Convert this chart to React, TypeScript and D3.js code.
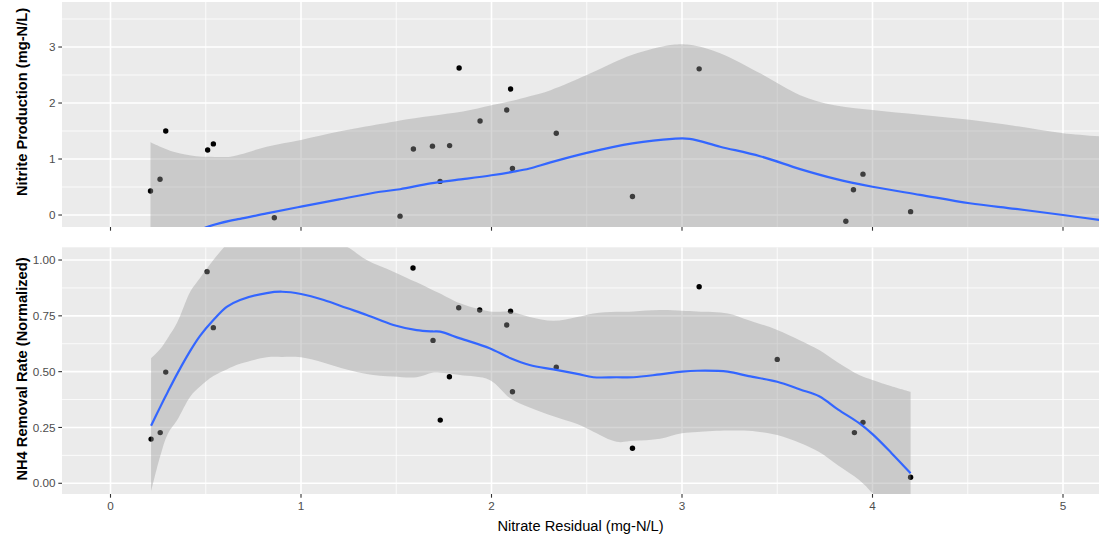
import { useMemo } from "react";
import * as d3 from "d3";

// points (x = nitrate residual)
const topX = [0.21, 0.26, 0.29, 0.51, 0.54, 0.86, 1.52, 1.59, 1.69, 1.73, 1.78, 1.83, 1.94, 2.08, 2.1, 2.11, 2.34, 2.74, 3.09, 3.86, 3.9, 3.95, 4.2];
const topY = [0.43, 0.64, 1.5, 1.16, 1.27, -0.05, -0.02, 1.18, 1.23, 0.6, 1.24, 2.625, 1.68, 1.875, 2.25, 0.83, 1.46, 0.33, 2.61, -0.11, 0.45, 0.73, 0.06];

const bottomX = [0.213, 0.261, 0.29, 0.507, 0.54, 1.588, 1.693, 1.731, 1.779, 1.828, 1.938, 2.08, 2.1, 2.11, 2.34, 2.74, 3.09, 3.5, 3.905, 3.95, 4.2];
const bottomY = [0.198, 0.227, 0.498, 0.948, 0.697, 0.964, 0.64, 0.283, 0.477, 0.786, 0.776, 0.709, 0.771, 0.41, 0.52, 0.157, 0.88, 0.555, 0.227, 0.273, 0.027];

// loess curves + confidence bands
const topSmoothX = [0.21, 0.33, 0.45, 0.51, 0.63, 0.68, 0.82, 1.0, 1.2, 1.415, 1.52, 1.68, 1.85, 2.0, 2.11, 2.2, 2.31, 2.5, 2.74, 2.95, 3.04, 3.2, 3.41, 3.62, 3.8, 4.0, 4.25, 4.51, 4.75, 5.0, 5.3];
const topFit = [-0.72, -0.5, -0.3, -0.21, -0.1, -0.07, 0.03, 0.15, 0.28, 0.416, 0.46, 0.565, 0.64, 0.71, 0.77, 0.83, 0.94, 1.11, 1.28, 1.36, 1.36, 1.22, 1.05, 0.82, 0.65, 0.505, 0.36, 0.21, 0.11, 0.0, -0.14];
const topUpper = [1.3, 1.13, 1.05, 1.04, 1.04, 1.08, 1.22, 1.34, 1.49, 1.625, 1.69, 1.77, 1.85, 1.96, 2.04, 2.12, 2.23, 2.5, 2.86, 3.04, 3.04, 2.89, 2.53, 2.14, 1.96, 1.875, 1.79, 1.7, 1.59, 1.46, 1.38];
const topLower = [-2.7, -2.1, -1.6, -1.45, -1.25, -1.15, -1.1, -1.0, -0.9, -0.8, -0.75, -0.65, -0.57, -0.53, -0.5, -0.46, -0.35, -0.28, -0.3, -0.32, -0.32, -0.45, -0.43, -0.5, -0.66, -0.87, -1.07, -1.28, -1.37, -1.46, -1.66];

const bottomSmoothX = [0.213, 0.26, 0.3, 0.35, 0.42, 0.47, 0.54, 0.61, 0.68, 0.82, 0.9, 1.0, 1.12, 1.24, 1.345, 1.485, 1.607, 1.69, 1.73, 1.835, 1.99, 2.1, 2.2, 2.325, 2.45, 2.535, 2.657, 2.745, 2.885, 3.0, 3.08, 3.24, 3.35, 3.5, 3.62, 3.72, 3.82, 3.93, 4.0, 4.1, 4.2];
const bottomFit = [0.258, 0.34, 0.408, 0.49, 0.595, 0.66, 0.731, 0.79, 0.821, 0.852, 0.858, 0.848, 0.821, 0.785, 0.754, 0.709, 0.686, 0.68, 0.679, 0.649, 0.605, 0.56, 0.53, 0.51, 0.49, 0.475, 0.475, 0.475, 0.488, 0.5, 0.504, 0.5, 0.48, 0.455, 0.42, 0.39, 0.33, 0.269, 0.22, 0.135, 0.045];
const bottomUpper = [0.56, 0.6, 0.65, 0.72, 0.86, 0.92, 1.0, 1.07, 1.12, 1.15, 1.15, 1.14, 1.1, 1.06, 1.0, 0.948, 0.9, 0.866, 0.85, 0.806, 0.77, 0.768, 0.745, 0.728, 0.745, 0.761, 0.768, 0.77, 0.776, 0.773, 0.77, 0.761, 0.73, 0.687, 0.64, 0.597, 0.54, 0.485, 0.463, 0.435, 0.41];
const bottomLower = [-0.037, 0.119, 0.22, 0.283, 0.39, 0.433, 0.48, 0.51, 0.535, 0.564, 0.566, 0.564, 0.54, 0.51, 0.49, 0.478, 0.475, 0.495, 0.495, 0.485, 0.463, 0.38, 0.34, 0.3, 0.265, 0.231, 0.186, 0.19, 0.2, 0.224, 0.23, 0.236, 0.235, 0.216, 0.18, 0.14, 0.08, 0.015, -0.045, -0.16, -0.32];

const xTicks = [0, 1, 2, 3, 4, 5];
const xMinor = [0.5, 1.5, 2.5, 3.5, 4.5];
const topYTicks = [0, 1, 2, 3];
const topYMinor = [0.5, 1.5, 2.5, 3.5];
const bottomYTicks = [0, 0.25, 0.5, 0.75, 1.0];
const bottomYMinor = [0.125, 0.375, 0.625, 0.875];

const FONT = "'Liberation Sans', Arial, sans-serif";

type PanelProps = {
  id: string;
  top: number;
  bottom: number;
  yDomain: [number, number];
  yTicks: number[];
  yMinor: number[];
  fmt: (v: number) => string;
  px: number[];
  py: number[];
  sx: number[];
  fit: number[];
  lo: number[];
  hi: number[];
  title: string;
  titleY: number;
  xScale: d3.ScaleLinear<number, number>;
  left: number;
  right: number;
  showXLabels: boolean;
};

function Panel(p: PanelProps) {
  const y = d3.scaleLinear().domain(p.yDomain).range([p.bottom, p.top]);
  const x = p.xScale;
  const idx = d3.range(p.sx.length);
  const curve = d3.curveCatmullRom.alpha(0.5);
  const area = d3
    .area<number>()
    .x((i) => x(p.sx[i]))
    .y0((i) => y(p.lo[i]))
    .y1((i) => y(p.hi[i]))
    .curve(curve);
  const line = d3
    .line<number>()
    .x((i) => x(p.sx[i]))
    .y((i) => y(p.fit[i]))
    .curve(curve);

  return (
    <g>
      <defs>
        <clipPath id={p.id}>
          <rect x={p.left} y={p.top} width={p.right - p.left} height={p.bottom - p.top} />
        </clipPath>
      </defs>
      <rect x={p.left} y={p.top} width={p.right - p.left} height={p.bottom - p.top} fill="#EBEBEB" />
      <g clipPath={`url(#${p.id})`}>
        {p.yMinor.map((v) => (
          <line key={"ym" + v} x1={p.left} x2={p.right} y1={y(v)} y2={y(v)} stroke="#fff" strokeWidth={0.8} />
        ))}
        {xMinor.map((v) => (
          <line key={"xm" + v} x1={x(v)} x2={x(v)} y1={p.top} y2={p.bottom} stroke="#fff" strokeWidth={0.8} />
        ))}
        {p.yTicks.map((v) => (
          <line key={"y" + v} x1={p.left} x2={p.right} y1={y(v)} y2={y(v)} stroke="#fff" strokeWidth={1.6} />
        ))}
        {xTicks.map((v) => (
          <line key={"x" + v} x1={x(v)} x2={x(v)} y1={p.top} y2={p.bottom} stroke="#fff" strokeWidth={1.6} />
        ))}
        {p.px.map((v, i) => (
          <circle key={i} cx={x(v)} cy={y(p.py[i])} r={2.7} fill="#000" />
        ))}
        <path d={area(idx) ?? ""} fill="#999999" fillOpacity={0.4} />
        <path d={line(idx) ?? ""} fill="none" stroke="#3366FF" strokeWidth={2.2} />
      </g>

      {/* y axis */}
      {p.yTicks.map((v) => (
        <g key={"yt" + v}>
          <line x1={p.left - 3.7} x2={p.left} y1={y(v)} y2={y(v)} stroke="#333" strokeWidth={1.1} />
          <text x={p.left - 6.6} y={y(v)} dy="0.35em" textAnchor="end" fontSize={11.7} fill="#4D4D4D" fontFamily={FONT}>
            {p.fmt(v)}
          </text>
        </g>
      ))}
      {/* x axis ticks */}
      {xTicks.map((v) => (
        <g key={"xt" + v}>
          <line x1={x(v)} x2={x(v)} y1={p.bottom} y2={p.bottom + 3.7} stroke="#333" strokeWidth={1.1} />
          {p.showXLabels && (
            <text x={x(v)} y={p.bottom + 15.5} textAnchor="middle" fontSize={11.7} fill="#4D4D4D" fontFamily={FONT}>
              {v}
            </text>
          )}
        </g>
      ))}
      <text
        transform={`translate(27,${p.titleY}) rotate(-90)`}
        textAnchor="middle"
        fontSize={14.67}
        fontWeight={700}
        fill="#000"
        fontFamily={FONT}
      >
        {p.title}
      </text>
    </g>
  );
}

export default function App() {
  const width = 1099;
  const height = 542;
  const left = 62;
  const right = 1099;

  const xScale = useMemo(() => d3.scaleLinear().domain([0, 5]).range([110.5, 1063]), []);

  return (
    <svg
      width={width}
      height={height}
      style={{ position: "fixed", left: 0, top: 0, background: "#fff" }}
    >
      <rect width={width} height={height} fill="#fff" />
      <Panel
        id="clipTop"
        top={2}
        bottom={227}
        yDomain={[-0.214, 3.804]}
        yTicks={topYTicks}
        yMinor={topYMinor}
        fmt={(v) => String(v)}
        px={topX}
        py={topY}
        sx={topSmoothX}
        fit={topFit}
        lo={topLower}
        hi={topUpper}
        title="Nitrite Production (mg-N/L)"
        titleY={102}
        xScale={xScale}
        left={left}
        right={right}
        showXLabels={false}
      />
      <Panel
        id="clipBottom"
        top={247.3}
        bottom={494}
        yDomain={[-0.048, 1.057]}
        yTicks={bottomYTicks}
        yMinor={bottomYMinor}
        fmt={(v) => v.toFixed(2)}
        px={bottomX}
        py={bottomY}
        sx={bottomSmoothX}
        fit={bottomFit}
        lo={bottomLower}
        hi={bottomUpper}
        title="NH4 Removal Rate (Normalized)"
        titleY={369}
        xScale={xScale}
        left={left}
        right={right}
        showXLabels={true}
      />
      <text x={(left + right) / 2} y={531} textAnchor="middle" fontSize={14.67} fill="#000" fontFamily={FONT}>
        Nitrate Residual (mg-N/L)
      </text>
    </svg>
  );
}
